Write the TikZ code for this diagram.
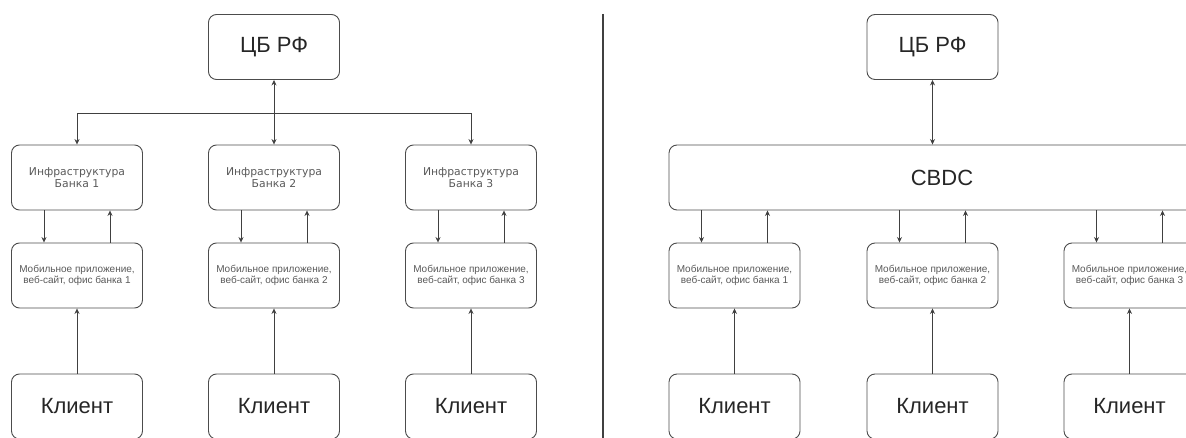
\documentclass[tikz,border=0pt]{standalone}
\usepackage{fontspec}
\setmainfont{Liberation Sans}
\newfontfamily\dejavu{DejaVu Sans}
\usetikzlibrary{arrows.meta}

\begin{document}
\begin{tikzpicture}[x=1pt, y=-1pt,
    box/.style={draw=black!70, line width=0.9pt, rounded corners=8pt, minimum width=131pt, minimum height=65pt, inner sep=0pt, align=center},
    gross/.style={box, font=\fontsize{22}{26}\selectfont, text=black!85},
    infra/.style={box, font=\dejavu\fontsize{10.8}{11.5}\selectfont, text=black!65},
    mobil/.style={box, font=\fontsize{10}{11}\selectfont, text=black!65},
    pfeil/.style={draw=black!75, line width=0.7pt, -{Stealth[length=5.5pt,width=5pt]}},
    doppel/.style={pfeil, {Stealth[length=5.5pt,width=5pt]}-{Stealth[length=5.5pt,width=5pt]}}]
    \useasboundingbox (0,0) rectangle (1186,438);

    %links: Banken
    \node[gross] (cbl) at (274,47) {ЦБ РФ};
    \node[infra] (inf1) at (77,177.5) {Инфраструктура\\Банка 1};
    \node[infra] (inf2) at (274,177.5) {Инфраструктура\\Банка 2};
    \node[infra] (inf3) at (471,177.5) {Инфраструктура\\Банка 3};
    \node[mobil] (mobl1) at (77,275.5) {Мобильное приложение,\\веб-сайт, офис банка 1};
    \node[mobil] (mobl2) at (274,275.5) {Мобильное приложение,\\веб-сайт, офис банка 2};
    \node[mobil] (mobl3) at (471,275.5) {Мобильное приложение,\\веб-сайт, офис банка 3};
    \node[gross] (klil1) at (77,406.5) {Клиент};
    \node[gross] (klil2) at (274,406.5) {Клиент};
    \node[gross] (klil3) at (471,406.5) {Клиент};

    %Pfeile links
    \coordinate (abzw) at (274,113);
    \draw[doppel] (cbl) -- (inf2);
    \draw[pfeil] (abzw) -| (inf1.north);
    \draw[pfeil] (abzw) -| (inf3.north);
    \draw[pfeil] ([xshift=-33pt]inf1.south) -- ([xshift=-33pt]mobl1.north);
    \draw[pfeil] ([xshift=33pt]mobl1.north) -- ([xshift=33pt]inf1.south);
    \draw[pfeil] ([xshift=-33pt]inf2.south) -- ([xshift=-33pt]mobl2.north);
    \draw[pfeil] ([xshift=33pt]mobl2.north) -- ([xshift=33pt]inf2.south);
    \draw[pfeil] ([xshift=-33pt]inf3.south) -- ([xshift=-33pt]mobl3.north);
    \draw[pfeil] ([xshift=33pt]mobl3.north) -- ([xshift=33pt]inf3.south);
    \draw[pfeil] (klil1) -- (mobl1);
    \draw[pfeil] (klil2) -- (mobl2);
    \draw[pfeil] (klil3) -- (mobl3);

    %Trennlinie
    \draw[black!75, line width=1.2pt] (603,14) -- (603,438);

    %rechts: CBDC
    \node[gross] (cbr) at (932.5,47) {ЦБ РФ};
    \node[gross, minimum width=546pt] (cbdc) at (942,177.5) {CBDC};
    \node[mobil] (mobr1) at (734.5,275.5) {Мобильное приложение,\\веб-сайт, офис банка 1};
    \node[mobil] (mobr2) at (932.5,275.5) {Мобильное приложение,\\веб-сайт, офис банка 2};
    \node[mobil] (mobr3) at (1129.5,275.5) {Мобильное приложение,\\веб-сайт, офис банка 3};
    \node[gross] (klir1) at (734.5,406.5) {Клиент};
    \node[gross] (klir2) at (932.5,406.5) {Клиент};
    \node[gross] (klir3) at (1129.5,406.5) {Клиент};

    %Pfeile rechts
    \draw[doppel] (cbr.south) -- (cbr.south |- cbdc.north);
    \coordinate (r1ab) at ([xshift=-33pt]mobr1.north);
    \coordinate (r1auf) at ([xshift=33pt]mobr1.north);
    \coordinate (r2ab) at ([xshift=-33pt]mobr2.north);
    \coordinate (r2auf) at ([xshift=33pt]mobr2.north);
    \coordinate (r3ab) at ([xshift=-33pt]mobr3.north);
    \coordinate (r3auf) at ([xshift=33pt]mobr3.north);
    \draw[pfeil] (r1ab |- cbdc.south) -- (r1ab);
    \draw[pfeil] (r1auf) -- (r1auf |- cbdc.south);
    \draw[pfeil] (r2ab |- cbdc.south) -- (r2ab);
    \draw[pfeil] (r2auf) -- (r2auf |- cbdc.south);
    \draw[pfeil] (r3ab |- cbdc.south) -- (r3ab);
    \draw[pfeil] (r3auf) -- (r3auf |- cbdc.south);
    \draw[pfeil] (klir1) -- (mobr1);
    \draw[pfeil] (klir2) -- (mobr2);
    \draw[pfeil] (klir3) -- (mobr3);
\end{tikzpicture}
\end{document}
